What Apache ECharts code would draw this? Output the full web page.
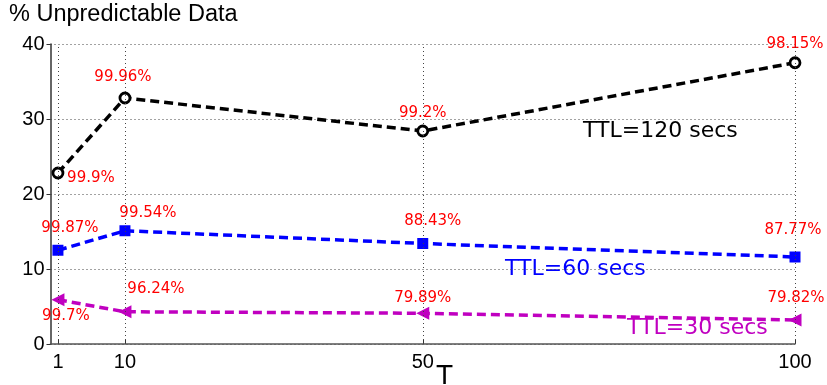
<!DOCTYPE html>
<html><head><meta charset="utf-8">
<script src="https://cdn.jsdelivr.net/npm/echarts@6/dist/echarts.min.js"></script>
<style>html,body{margin:0;padding:0;background:#fff}#c{width:827px;height:385px}</style>
</head><body><div id="c"></div>
<script>
var xTicks = [1, 10, 50, 100];
var yTicks = [0, 10, 20, 30, 40];
var ttl120 = [22.8, 32.8, 28.4, 37.5];
var ttl60 = [12.5, 15.1, 13.4, 11.6];
var ttl30 = [5.9, 4.3, 4.1, 3.2];
var pct120 = ['99.9%', '99.96%', '99.2%', '98.15%'];
var pct60 = ['99.87%', '99.54%', '88.43%', '87.77%'];
var pct30 = ['99.7%', '96.24%', '79.89%', '79.82%'];
var seriesNames = ['TTL=120 secs', 'TTL=60 secs', 'TTL=30 secs'];

var FONT = 'Liberation Sans, Arial, Helvetica, sans-serif';
var WFONT = 'DejaVu Sans, sans-serif';
// label offsets (styling only)
var off120 = [[33, 5], [-2, -21], [0, -18], [0, -19]];
var off60 = [[12, -22], [23, -18], [10, -22], [-2, -27]];
var off30 = [[8, 16], [31, -23], [0, -15], [1, -22]];

function build(vals, pcts, offs) {
  return xTicks.map(function (x, i) {
    return {
      value: [x, vals[i]],
      label: { show: true, formatter: pcts[i], offset: offs[i], position: 'inside',
        color: '#ff0000', fontSize: 15, fontFamily: WFONT }
    };
  });
}

var chart = echarts.init(document.getElementById('c'));
var lineCommon = { width: 3.5, type: [9, 5] };
chart.setOption({
  animation: false,
  grid: { left: 50.5, right: 32, top: 44, bottom: 41, containLabel: false },
  xAxis: {
    type: 'value', min: 0, max: 100,
    axisLine: { show: true, onZero: false, lineStyle: { color: '#555', width: 1.5 } },
    axisTick: { show: true, inside: true, length: 5, customValues: xTicks, lineStyle: { color: '#333' } },
    axisLabel: { customValues: xTicks, color: '#000', fontSize: 20, fontFamily: FONT, margin: 8 },
    splitLine: { show: false }
  },
  yAxis: {
    type: 'value', min: 0, max: 40, interval: 10,
    axisLine: { show: true, lineStyle: { color: '#333', width: 1.5 } },
    axisTick: { show: true, inside: false, length: 4, lineStyle: { color: '#333' } },
    axisLabel: { color: '#000', fontSize: 20, fontFamily: FONT, margin: 6 },
    splitLine: { show: true, lineStyle: { color: '#444', type: [1, 3], width: 1 } }
  },
  series: [
    {
      type: 'line', data: [], silent: true,
      markLine: {
        silent: true, symbol: 'none', label: { show: false },
        lineStyle: { color: '#444', type: [1, 3], width: 1 },
        data: xTicks.map(function (x) { return { xAxis: x }; })
      }
    },
    {
      name: seriesNames[0], type: 'line', data: build(ttl120, pct120, off120),
      lineStyle: Object.assign({ color: '#000' }, lineCommon),
      symbol: 'circle', symbolSize: 10,
      itemStyle: { color: '#fff', borderColor: '#000', borderWidth: 2.8 }, z: 3
    },
    {
      name: seriesNames[1], type: 'line', data: build(ttl60, pct60, off60),
      lineStyle: Object.assign({ color: '#0000ff' }, lineCommon),
      symbol: 'rect', symbolSize: 11,
      itemStyle: { color: '#0000ff' }, z: 3
    },
    {
      name: seriesNames[2], type: 'line', data: build(ttl30, pct30, off30),
      lineStyle: Object.assign({ color: '#c000c0' }, lineCommon),
      symbol: 'triangle', symbolSize: 13, symbolRotate: 90,
      itemStyle: { color: '#c000c0' }, z: 3
    }
  ],
  graphic: [
    { type: 'text', left: 9, top: 3, style: { text: '% Unpredictable Data', fontSize: 23.5, fontFamily: FONT, fill: '#000' } },
    { type: 'text', x: 583, y: 131, style: { text: seriesNames[0], fontSize: 22, fontFamily: WFONT, fill: '#000', verticalAlign: 'middle' } },
    { type: 'text', x: 505, y: 269, style: { text: seriesNames[1], fontSize: 22, fontFamily: WFONT, fill: '#0000ff', verticalAlign: 'middle' } },
    { type: 'text', x: 627, y: 328, style: { text: seriesNames[2], fontSize: 22, fontFamily: WFONT, fill: '#c000c0', verticalAlign: 'middle' } },
    { type: 'text', left: 436, top: 362, style: { text: 'T', fontSize: 28, fontFamily: FONT, fill: '#000' } }
  ]
});
</script></body></html>
